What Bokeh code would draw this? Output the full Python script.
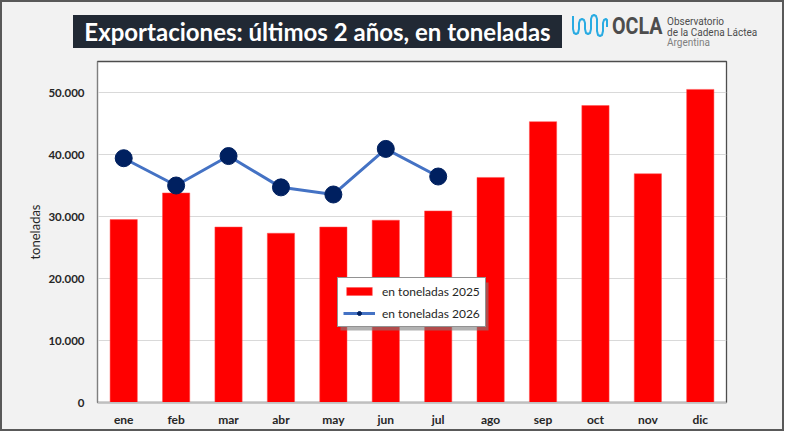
from bokeh.plotting import figure
from bokeh.layouts import column
from bokeh.models import (FactorRange, Range1d, FixedTicker, BoxAnnotation,
                          Legend, LegendItem, ColumnDataSource, Div)
from bokeh.embed import file_html
from bokeh.resources import INLINE

# ---- data ----
months = ["ene", "feb", "mar", "abr", "may", "jun", "jul", "ago", "sep", "oct", "nov", "dic"]
tons_2025 = [29500, 33800, 28300, 27300, 28300, 29400, 30900, 36300, 45300, 47900, 36900, 50500]
months_2026 = ["ene", "feb", "mar", "abr", "may", "jun", "jul"]
tons_2026 = [39400, 35000, 39750, 34700, 33550, 40900, 36450]
y_ticks = [0, 10000, 20000, 30000, 40000, 50000]
y_tick_labels = ["0", "10.000", "20.000", "30.000", "40.000", "50.000"]
series_names = ["en toneladas 2025", "en toneladas 2026"]
title_text = "Exportaciones: últimos 2 años, en toneladas"
logo_name = "OCLA"
logo_lines = ["Observatorio", "de la Cadena Láctea", "Argentina"]

FONT = "Lato"
BG = "#f2f2f2"
W = 780
HEAD_H = 56

# ---------------- header (title + logo) as HTML ----------------
wave_x = [0, 0, 1, 3, 5, 6, 6, 7, 9, 11, 12, 12, 13, 15, 17, 18, 18, 19, 21, 23, 24, 24, 25, 27, 29, 30, 30, 31, 33, 34, 34]
wave_y = [1, 14, 18, 19, 18, 14, 8, 5, 4, 5, 8, 14, 18, 19, 18, 14, 4, 1, 0, 1, 4, 16, 20, 21, 20, 16, 8, 5, 4, 5, 12]
pts = " ".join(f"{x + 1},{y + 1}" for x, y in zip(wave_x, wave_y))
logo_cols = ["#4d4d4d", "#4d4d4d", "#808080"]
logo_tops = [15, 25.7, 36.4]
small = "".join(
    f'<div style="position:absolute;left:665px;top:{t}px;font-family:Roboto;font-size:10px;'
    f'line-height:1;color:{c};white-space:nowrap">{s}</div>'
    for s, c, t in zip(logo_lines, logo_cols, logo_tops))
html = (
    f'<div style="position:relative;width:{W}px;height:{HEAD_H}px;background:{BG};overflow:hidden">'
    f'<div style="position:absolute;left:71px;top:13px;width:489px;height:33px;background:#212934;'
    f'color:white;font-family:{FONT};font-weight:bold;font-size:24px;line-height:33px;'
    f'text-align:center;white-space:nowrap">{title_text}</div>'
    f'<svg style="position:absolute;left:570px;top:12px" width="37" height="24">'
    f'<polyline points="{pts}" fill="none" stroke="#29abe2" stroke-width="2" '
    f'stroke-linejoin="round"/></svg>'
    f'<div style="position:absolute;left:610px;top:12px;font-family:Roboto;font-weight:bold;'
    f'font-size:24px;line-height:1;color:#4d4d4d;transform:scaleX(0.82);'
    f'transform-origin:left top;white-space:nowrap">{logo_name}</div>'
    f'{small}</div>'
)
header = Div(text=html, width=W, height=HEAD_H, margin=0)

# ---------------- chart ----------------
p = figure(frame_width=629, frame_height=341,
           x_range=FactorRange(*months), y_range=Range1d(0, 55000),
           output_backend="svg", toolbar_location=None,
           min_border_left=95, min_border_right=56, min_border_top=3, min_border_bottom=20)

p.background_fill_color = "white"
p.border_fill_color = BG
p.outline_line_color = "#4d4d4d"
p.outline_line_width = 1.3

p.yaxis.ticker = FixedTicker(ticks=y_ticks)
p.yaxis.major_label_overrides = {t: l for t, l in zip(y_ticks, y_tick_labels)}
p.yaxis.major_tick_line_color = None
p.yaxis.major_tick_out = 0
p.yaxis.major_tick_in = 0
p.yaxis.minor_tick_line_color = None
p.yaxis.axis_line_color = "#7f7f7f"
p.yaxis.major_label_text_font = FONT
p.yaxis.major_label_text_font_style = "bold"
p.yaxis.major_label_text_font_size = "11.5px"
p.yaxis.major_label_text_color = "#262626"
p.yaxis.major_label_standoff = 13
p.yaxis.axis_label = "toneladas"
p.yaxis.axis_label_text_font = FONT
p.yaxis.axis_label_text_font_style = "normal"
p.yaxis.axis_label_text_font_size = "13px"
p.yaxis.axis_label_text_color = "#262626"
p.yaxis.axis_label_standoff = 2

p.xaxis.major_tick_line_color = None
p.xaxis.major_tick_out = 0
p.xaxis.major_tick_in = 0
p.xaxis.minor_tick_line_color = None
p.xaxis.axis_line_color = "#bfbfbf"
p.xaxis.major_label_text_font = FONT
p.xaxis.major_label_text_font_style = "bold"
p.xaxis.major_label_text_font_size = "12px"
p.xaxis.major_label_text_color = "#262626"
p.xaxis.major_label_standoff = 9

p.xgrid.grid_line_color = None
p.ygrid.grid_line_color = "#d9d9d9"
p.ygrid.grid_line_width = 1

# legend placement (frame-relative) and its drop shadow (chart canvas units)
LEG_X, LEG_Y, LEG_W, LEG_H = 240, 75, 148, 48
frame_left, frame_bottom = 95, 3 + 341
p.add_layout(BoxAnnotation(left=frame_left + LEG_X + 3, right=frame_left + LEG_X + LEG_W + 3,
                           top=frame_bottom - LEG_Y - LEG_H + 3, bottom=frame_bottom - LEG_Y + 3,
                           left_units="canvas", right_units="canvas",
                           top_units="canvas", bottom_units="canvas",
                           fill_color="#7f7f7f", fill_alpha=0.6, line_color=None))

src25 = ColumnDataSource(dict(m=months, v=tons_2025))
src26 = ColumnDataSource(dict(m=months_2026, v=tons_2026))
bars = p.vbar(x="m", top="v", width=0.52, source=src25, fill_color="#ff0000",
              line_color="#ff5050", line_width=0.5)
line = p.line(x="m", y="v", source=src26, line_color="#4472c4", line_width=3)
dots = p.scatter(x="m", y="v", source=src26, size=17, fill_color="#002060",
                 line_color="#002060")

legend = Legend(items=[LegendItem(label=series_names[0], renderers=[bars]),
                       LegendItem(label=series_names[1], renderers=[line, dots])],
                location=(LEG_X, LEG_Y), orientation="vertical",
                label_text_font=FONT, label_text_font_size="12px", label_text_color="#262626",
                glyph_width=32, glyph_height=10, label_height=16, spacing=6, padding=5,
                label_standoff=7, margin=0,
                border_line_color="#262626", border_line_width=1,
                background_fill_color="white", background_fill_alpha=1)
p.add_layout(legend, "center")

layout = column(header, p, spacing=0,
                styles={"border": "2px solid #595959", "background-color": BG})

open("out.html", "w").write(file_html(layout, INLINE))
